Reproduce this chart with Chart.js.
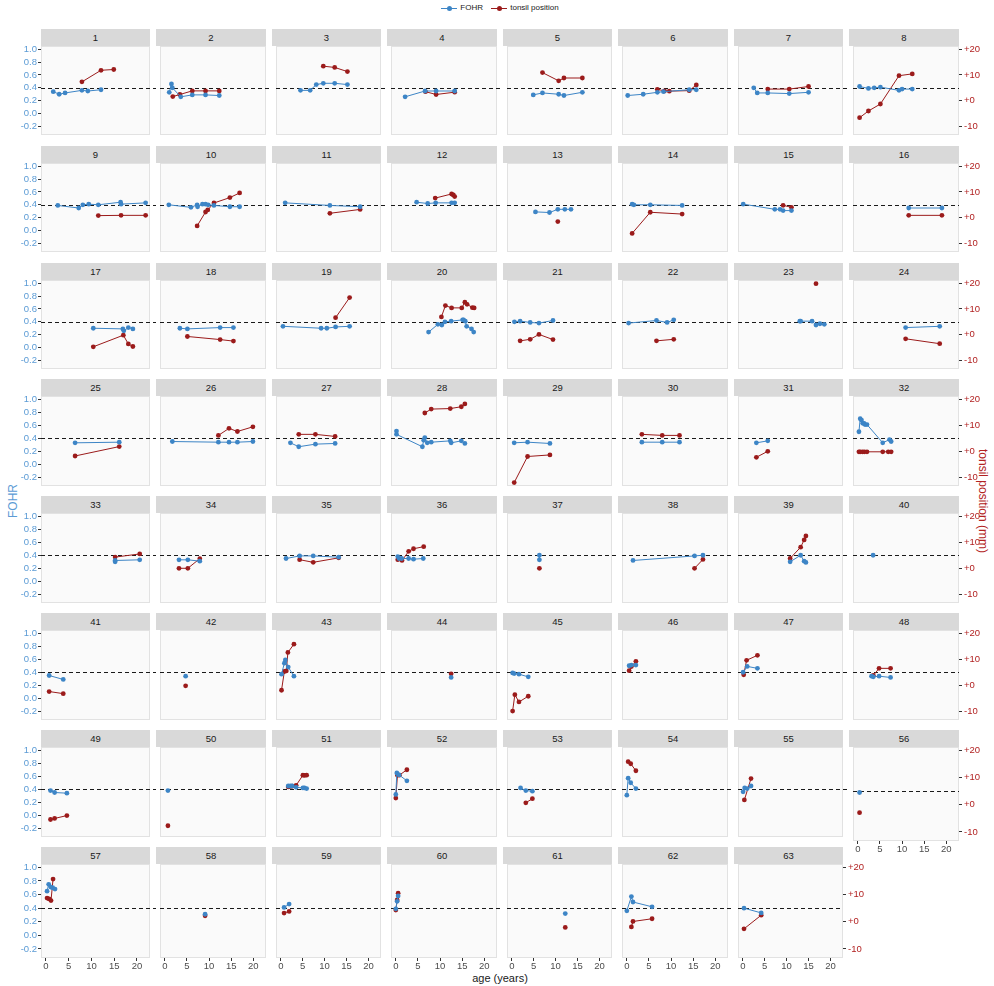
<!DOCTYPE html>
<html>
<head>
<meta charset="utf-8">
<script src="https://cdn.jsdelivr.net/npm/chart.js@4.4.1/dist/chart.umd.min.js"></script>
<style>
  body { margin: 0; background: #fff; font-family: "Liberation Sans", Arial, sans-serif; }
  #fig { position: relative; width: 994px; height: 986px; overflow: hidden; }
  #fig canvas { position: absolute; }
  .strip { position: absolute; background: #d9d9d9; color: #1a1a1a; font-size: 9.5px; text-align: center; }
  .title { position: absolute; white-space: nowrap; font-size: 12px; transform: translate(-50%, -50%); }
  #legend { position: absolute; top: 2px; left: 0; width: 994px; text-align: center; font-size: 8px; color: #1a1a1a; line-height: 12px; }
  .key { position: relative; display: inline-block; width: 16px; height: 12px; vertical-align: top; margin: 0 3px 0 6px; }
  .key::before { content: ""; position: absolute; left: 0; right: 0; top: 5.5px; height: 1px; background: var(--c); }
  .key::after { content: ""; position: absolute; left: 5.5px; top: 3.5px; width: 5px; height: 5px; border-radius: 50%; background: var(--c); }
</style>
</head>
<body>
<div id="fig">
  <div id="legend">
    <span class="key" style="--c:#3d85c6"></span>FOHR
    <span class="key" style="--c:#9b1b1b"></span>tonsil position
  </div>
  <div class="title" style="left:13px;top:501px;color:#5b9bd5;transform:translate(-50%,-50%) rotate(-90deg)">FOHR</div>
  <div class="title" style="left:983px;top:501px;color:#b22222;transform:translate(-50%,-50%) rotate(90deg)">tonsil position (mm)</div>
  <div class="title" style="left:500px;top:978px;color:#1a1a1a;font-size:11px">age (years)</div>
</div>
<script>
// one entry per patient panel (1..63), points are [age in years, value]
const fohr = [
  [[1.6,0.34],[2.9,0.30],[4.2,0.32],[7.9,0.36],[9.2,0.35],[12.1,0.37]],
  [[1.0,0.33],[1.5,0.46],[1.7,0.40],[3.6,0.26],[6.2,0.29],[9.2,0.29],[12.3,0.28]],
  [[4.5,0.36],[6.7,0.36],[8.1,0.45],[9.7,0.47],[12.3,0.47],[15.2,0.45]],
  [[2.1,0.26],[6.6,0.35],[9.1,0.35],[13.3,0.35]],
  [[4.9,0.29],[7.0,0.32],[10.7,0.30],[11.9,0.28],[16.1,0.33]],
  [[0.2,0.28],[3.7,0.30],[6.9,0.33],[8.3,0.34],[14.1,0.37],[15.7,0.37]],
  [[2.5,0.40],[3.3,0.32],[5.7,0.32],[10.6,0.31],[15.0,0.33]],
  [[0.4,0.42],[2.4,0.39],[3.7,0.40],[5.1,0.41],[9.3,0.36],[10.0,0.38],[12.3,0.38]],
  [[2.6,0.39],[7.2,0.35],[8.1,0.40],[9.4,0.41],[11.5,0.40],[16.4,0.44],[16.5,0.41],[21.9,0.43]],
  [[0.9,0.40],[5.9,0.36],[7.3,0.40],[7.4,0.37],[8.5,0.41],[9.2,0.41],[9.8,0.40],[11.1,0.39],[14.7,0.37],[16.9,0.37]],
  [[1.0,0.43],[11.2,0.39],[18.1,0.37]],
  [[4.7,0.44],[7.2,0.42],[9.0,0.43],[12.6,0.43],[13.3,0.43]],
  [[5.4,0.29],[8.6,0.28],[10.5,0.33],[12.1,0.33],[13.5,0.33]],
  [[1.2,0.41],[1.6,0.40],[5.3,0.40],[12.5,0.39]],
  [[0.1,0.41],[7.3,0.33],[8.5,0.33],[9.2,0.31],[11.1,0.31]],
  [[11.5,0.35],[19.0,0.35]],
  [[10.4,0.30],[16.9,0.29],[17.1,0.26],[18.1,0.31],[19.1,0.29]],
  [[3.4,0.30],[5.1,0.29],[12.5,0.31],[15.5,0.31]],
  [[0.5,0.33],[9.2,0.30],[10.5,0.30],[12.5,0.32],[15.7,0.33]],
  [[7.4,0.24],[9.5,0.36],[10.4,0.35],[11.1,0.40],[12.5,0.41],[15.1,0.43],[15.3,0.43],[15.7,0.41],[16.0,0.33],[17.1,0.29],[17.6,0.24]],
  [[0.6,0.40],[1.9,0.41],[4.2,0.39],[6.2,0.38],[9.4,0.42]],
  [[0.4,0.38],[6.7,0.42],[9.1,0.39],[10.6,0.43]],
  [[13.0,0.41],[13.2,0.41],[15.8,0.41],[16.7,0.35],[17.6,0.37],[18.6,0.36]],
  [[10.8,0.31],[18.5,0.33]],
  [[6.4,0.33],[16.1,0.34]],
  [[1.7,0.35],[12.1,0.34],[14.5,0.34],[16.4,0.34],[19.9,0.35]],
  [[2.2,0.33],[4.1,0.27],[7.9,0.31],[12.4,0.32]],
  [[0.15,0.51],[0.15,0.46],[6.0,0.27],[6.3,0.37],[6.55,0.41],[7.1,0.33],[8.0,0.34],[12.3,0.36],[12.5,0.33],[14.8,0.36],[15.6,0.32]],
  [[0.55,0.33],[3.6,0.34],[8.7,0.32]],
  [[3.4,0.34],[8.0,0.34],[11.9,0.34]],
  [[3.1,0.33],[5.7,0.36]],
  [[0.25,0.50],[0.54,0.70],[0.83,0.68],[1.12,0.63],[1.41,0.63],[1.63,0.61],[2.07,0.61],[5.63,0.33],[7.16,0.38],[7.53,0.35]],
  [[15.2,0.30],[15.2,0.32],[20.6,0.33]],
  [[3.2,0.33],[5.2,0.33],[7.9,0.31]],
  [[1.2,0.35],[4.3,0.39],[7.4,0.39],[13.2,0.37]],
  [[0.44,0.38],[0.73,0.35],[1.32,0.35],[2.9,0.35],[4.0,0.34],[6.2,0.35]],
  [[6.3,0.40],[6.3,0.33]],
  [[1.4,0.32],[15.3,0.39],[17.2,0.40]],
  [[10.8,0.30],[13.2,0.40],[14.0,0.31],[14.4,0.29]],
  [[3.45,0.40]],
  [[0.7,0.35],[3.8,0.29]],
  [[4.7,0.34]],
  [[0.17,0.37],[0.82,0.54],[1.04,0.59],[1.7,0.48],[3.0,0.34]],
  [[12.5,0.32]],
  [[0.19,0.39],[0.55,0.38],[1.64,0.37],[3.76,0.33]],
  [[0.52,0.50],[1.03,0.51],[2.05,0.51]],
  [[0.07,0.40],[1.01,0.49],[3.34,0.46]],
  [[3.1,0.34],[3.5,0.33],[4.8,0.34],[7.4,0.32]],
  [[1.0,0.38],[1.9,0.35],[4.6,0.34]],
  [[0.7,0.38]],
  [[1.7,0.45],[2.2,0.45],[2.6,0.45],[3.5,0.43],[5.05,0.42],[5.4,0.42],[5.9,0.41]],
  [[0.0,0.32],[0.23,0.65],[0.74,0.62],[2.5,0.53]],
  [[2.0,0.42],[3.2,0.38],[4.7,0.37]],
  [[0.0,0.31],[0.3,0.57],[0.88,0.50],[2.05,0.41]],
  [[0.07,0.36],[0.43,0.42],[1.01,0.41],[1.88,0.45]],
  [[0.39,0.38]],
  [[0.24,0.65],[0.6,0.75],[1.04,0.71],[1.48,0.70],[1.99,0.68]],
  [[9.1,0.31]],
  [[0.75,0.41],[1.9,0.46]],
  [[0.0,0.39],[0.3,0.50],[0.52,0.58]],
  [[12.2,0.32]],
  [[0.0,0.36],[1.03,0.57],[1.39,0.49],[5.7,0.42]],
  [[0.28,0.40],[4.2,0.33]]
];

// tonsil position in mm, same panel order
const tonsil = [
  [[7.9,7.3],[12.1,11.8],[14.9,12.1]],
  [[1.8,1.6],[3.4,2.4],[6.2,3.8],[9.2,3.8],[12.3,3.8]],
  [[9.7,13.4],[12.3,12.9],[15.2,11.3]],
  [[6.7,3.5],[9.1,2.4],[13.3,3.3]],
  [[7.0,10.9],[10.7,7.7],[11.9,8.8],[16.1,8.8]],
  [[6.9,4.4],[8.5,3.8],[9.6,3.7],[14.1,3.9],[15.7,6.1]],
  [[5.7,4.5],[10.6,4.5],[15.0,5.5]],
  [[0.4,-6.6],[2.4,-4.0],[5.1,-1.3],[9.3,9.7],[12.3,10.4]],
  [[11.5,0.8],[16.5,0.9],[21.9,0.9]],
  [[7.3,-3.2],[9.2,2.2],[9.7,3.0],[11.1,5.7],[14.7,7.8],[16.9,9.6]],
  [[11.2,1.7],[18.1,3.2]],
  [[8.9,7.6],[12.6,9.2],[13.0,8.8],[13.3,8.2]],
  [[10.5,-1.5]],
  [[1.2,-6.1],[5.3,2.1],[12.5,1.4]],
  [[9.2,4.8],[11.1,4.0]],
  [[11.5,0.9],[19.0,0.9]],
  [[10.4,-4.7],[17.0,-0.2],[18.1,-3.6],[19.1,-4.6]],
  [[5.1,-0.7],[12.5,-1.9],[15.5,-2.5]],
  [[12.5,6.6],[15.7,14.4]],
  [[10.3,6.9],[11.2,11.3],[12.6,10.4],[14.9,10.4],[15.6,12.6],[16.1,11.8],[17.3,10.5],[17.7,10.4]],
  [[1.9,-2.4],[4.2,-1.8],[6.2,0.1],[9.4,-1.9]],
  [[6.7,-2.4],[10.6,-1.8]],
  [[16.7,19.8]],
  [[10.8,-1.6],[18.5,-3.5]],
  [[6.4,-1.8],[16.1,1.8]],
  [[12.1,6.1],[14.5,8.8],[16.4,7.6],[19.9,9.4]],
  [[4.1,6.5],[7.9,6.5],[12.4,5.7]],
  [[6.55,14.7],[8.0,16.2],[12.3,16.4],[14.8,17.1],[15.6,18.2]],
  [[0.55,-12.0],[3.6,-2.0],[8.7,-1.4]],
  [[3.4,6.5],[8.0,6.1],[11.9,6.1]],
  [[3.1,-2.3],[5.7,0.0]],
  [[0.25,-0.2],[0.54,-0.2],[1.05,-0.2],[1.48,-0.2],[2.07,-0.2],[5.63,-0.2],[6.87,-0.2],[7.53,-0.2]],
  [[15.2,4.3],[20.6,5.5]],
  [[3.2,0.0],[5.2,0.0],[7.9,3.7]],
  [[4.3,3.3],[7.4,2.3],[13.2,4.0]],
  [[0.44,3.3],[1.4,3.0],[2.9,6.5],[4.0,7.5],[6.3,8.3]],
  [[6.3,0.0]],
  [[15.3,0.0],[17.2,3.4]],
  [[10.8,3.8],[13.2,8.1],[14.0,10.9],[14.4,12.4]],
  [],
  [[0.7,-2.4],[3.8,-3.2]],
  [[4.7,-0.2]],
  [[0.17,-1.9],[0.82,5.3],[1.26,5.5],[1.62,12.6],[3.0,15.8]],
  [[12.5,4.4]],
  [[0.19,-9.9],[0.7,-3.6],[1.64,-6.4],[3.76,-4.2]],
  [[0.52,5.6],[1.03,7.2],[2.05,9.2]],
  [[0.21,4.0],[0.87,9.6],[3.34,11.5]],
  [[3.5,3.8],[4.8,6.5],[7.4,6.5]],
  [[1.0,-6.6],[1.9,-6.2],[4.6,-5.1]],
  [[0.7,-9.0]],
  [[1.7,5.9],[2.2,6.1],[2.6,6.2],[3.5,6.5],[5.05,10.4],[5.4,10.3],[5.9,10.4]],
  [[0.0,1.6],[0.37,10.4],[0.8,10.4],[2.5,12.5]],
  [[3.2,-0.2],[4.7,1.4]],
  [[0.3,15.6],[0.88,14.8],[2.05,12.1]],
  [[0.36,0.9],[1.88,9.1]],
  [[0.39,-2.9]],
  [[0.24,8.7],[0.68,8.4],[1.11,7.8],[1.56,15.7]],
  [[9.1,2.2]],
  [[0.75,3.2],[1.9,3.8]],
  [[0.0,4.3],[0.3,8.0],[0.52,10.5]],
  [[12.2,-2.1]],
  [[1.03,-1.9],[1.39,0.1],[5.7,1.1]],
  [[0.28,-2.6],[4.2,2.4]]
];

const xTicks = [0, 5, 10, 15, 20];
const fohrTicks = [-0.2, 0, 0.2, 0.4, 0.6, 0.8, 1.0];
const tonsilTicks = [-10, 0, 10, 20];
const fohrCutoff = 0.4;

// axis ranges; right axis: tonsil = (FOHR - 0.2) * 25
const X_MIN = -1.09, X_MAX = 22.86;
const Y_MIN = -0.333, Y_MAX = 1.049;
const toTonsil = v => (v - 0.2) * 25;

const BLUE = '#3d85c6', RED = '#9b1b1b';

// panel grid geometry
const COLS = 8;
const LEFT0 = 41, PITCH_X = 115.47, PLOT_W = 109.4;
const TOP0 = 45.7, PITCH_Y = 116.9, PLOT_H = 93.6, STRIP_H = 17;
const AXIS_L = 41, AXIS_R = 40, AXIS_B = 22, PAD_T = 7;

Chart.defaults.font.family = '"Liberation Sans", Arial, sans-serif';

const panelPlugin = {
  id: 'panel',
  beforeDraw(chart) {
    const { ctx, chartArea: a } = chart;
    ctx.save();
    ctx.fillStyle = '#fafafa';
    ctx.fillRect(a.left, a.top, a.width, a.height);
    ctx.strokeStyle = '#e2e2e2';
    ctx.lineWidth = 1;
    ctx.strokeRect(a.left + 0.5, a.top + 0.5, a.width - 1, a.height - 1);
    ctx.restore();
  },
  beforeDatasetsDraw(chart, args, opts) {
    const { ctx, chartArea: a } = chart;
    const y = Math.round(chart.scales.y.getPixelForValue(fohrCutoff)) + 0.5;
    ctx.save();
    ctx.strokeStyle = '#1a1a1a';
    ctx.lineWidth = 1.1;
    ctx.setLineDash([4, 3]);
    ctx.beginPath();
    ctx.moveTo(a.left, y);
    ctx.lineTo(opts.extend ? chart.width : a.right, y);
    ctx.stroke();
    ctx.restore();
  }
};

function lineSet(label, pts, axis, color) {
  return {
    label,
    data: pts.map(([x, y]) => ({ x, y })),
    yAxisID: axis,
    borderColor: color,
    backgroundColor: color,
    pointBackgroundColor: color,
    pointBorderWidth: 0,
    pointRadius: 2.4,
    borderWidth: 1,
    tension: 0
  };
}

// fixed axis sizes so every plot area lines up; hidden axes keep zero size
function fixWidth(w) {
  return s => {
    s.paddingTop = 0; s.paddingBottom = 0;
    if (s.options.display) s.width = w;
  };
}
function fixHeight(h) {
  return s => {
    s.paddingLeft = 0; s.paddingRight = 0;
    if (s.options.display) s.height = h;
  };
}

const tickGrid = { display: true, drawOnChartArea: false, drawTicks: true, tickLength: 3, tickColor: '#333', tickWidth: 1 };
const fig = document.getElementById('fig');

fohr.forEach((pts, i) => {
  const r = Math.floor(i / COLS), c = i % COLS;
  const isLast = c === COLS - 1 || i === fohr.length - 1;
  const isBottom = i + COLS >= fohr.length;

  const plotL = Math.round(LEFT0 + c * PITCH_X);
  const plotR = Math.round(LEFT0 + c * PITCH_X + PLOT_W);
  const nextL = Math.round(LEFT0 + (c + 1) * PITCH_X);
  const plotT = Math.round(TOP0 + r * PITCH_Y);
  const plotB = Math.round(TOP0 + r * PITCH_Y + PLOT_H);
  const padL = c === 0 ? AXIS_L : 0;
  const padR = isLast ? AXIS_R : nextL - plotR;
  const padB = isBottom ? AXIS_B : 0;

  const strip = document.createElement('div');
  strip.className = 'strip';
  strip.style.cssText = `left:${plotL}px;top:${plotT - STRIP_H}px;width:${plotR - plotL}px;height:${STRIP_H}px;line-height:${STRIP_H}px`;
  strip.textContent = i + 1;
  fig.appendChild(strip);

  const cv = document.createElement('canvas');
  cv.width = padL + (plotR - plotL) + padR;
  cv.height = PAD_T + (plotB - plotT) + padB;
  cv.style.left = (plotL - padL) + 'px';
  cv.style.top = (plotT - PAD_T) + 'px';
  fig.appendChild(cv);

  new Chart(cv, {
    type: 'line',
    data: {
      datasets: [
        lineSet('FOHR', pts, 'y', BLUE),
        lineSet('tonsil position', tonsil[i], 'y2', RED)
      ]
    },
    options: {
      responsive: false,
      animation: false,
      events: [],
      layout: { padding: { top: PAD_T, right: isLast ? 0 : padR, left: 0, bottom: 0 } },
      plugins: {
        legend: { display: false },
        tooltip: { enabled: false },
        panel: { extend: !isLast }
      },
      scales: {
        x: {
          type: 'linear', min: X_MIN, max: X_MAX, display: isBottom,
          afterBuildTicks: s => { s.ticks = xTicks.map(v => ({ value: v })); },
          afterFit: fixHeight(AXIS_B),
          grid: tickGrid, border: { display: false },
          ticks: { color: '#4d4d4d', padding: 0, maxRotation: 0, autoSkip: false, font: { size: 9.5 } }
        },
        y: {
          type: 'linear', position: 'left', min: Y_MIN, max: Y_MAX, display: c === 0,
          afterBuildTicks: s => { s.ticks = fohrTicks.map(v => ({ value: v })); },
          afterFit: fixWidth(AXIS_L),
          grid: tickGrid, border: { display: false },
          ticks: { color: '#5b9bd5', padding: 1, autoSkip: false, font: { size: 9.5 }, callback: v => v.toFixed(1) }
        },
        y2: {
          type: 'linear', position: 'right', min: toTonsil(Y_MIN), max: toTonsil(Y_MAX), display: isLast,
          afterBuildTicks: s => { s.ticks = tonsilTicks.map(v => ({ value: v })); },
          afterFit: fixWidth(AXIS_R),
          grid: tickGrid, border: { display: false },
          ticks: { color: '#b22222', padding: 2, autoSkip: false, font: { size: 9.5 }, callback: v => (v >= 0 ? '+' : '') + v }
        }
      }
    },
    plugins: [panelPlugin]
  });
});
</script>
</body>
</html>
